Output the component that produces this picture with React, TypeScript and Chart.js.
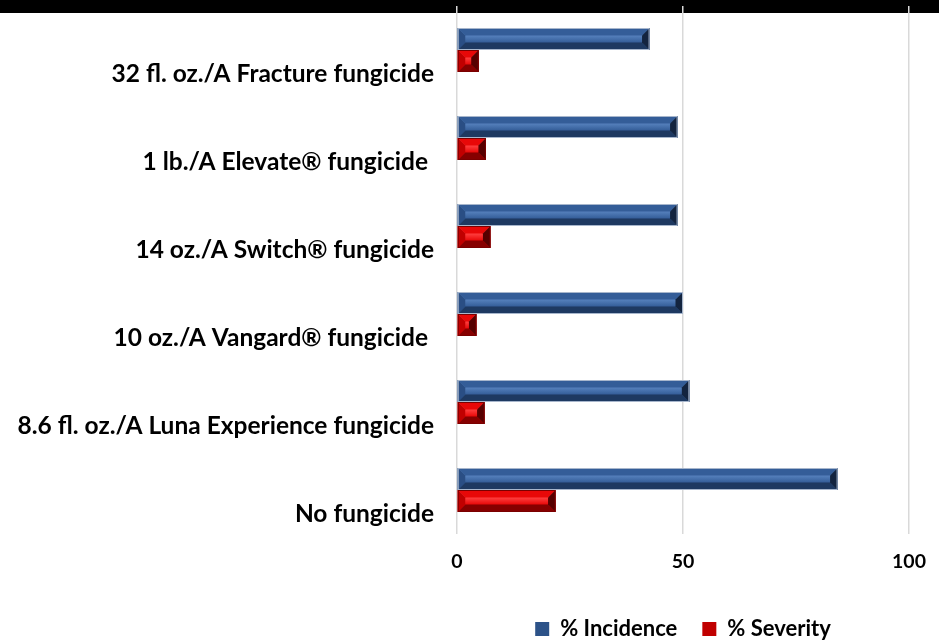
import React, { useEffect, useRef } from "react";
import { Chart, registerables } from "chart.js";

Chart.register(...registerables);

const categories = [
  "32 fl. oz./A Fracture fungicide",
  "1 lb./A Elevate\u00AE fungicide ",
  "14 oz./A Switch\u00AE fungicide",
  "10 oz./A Vangard\u00AE fungicide ",
  "8.6 fl. oz./A Luna Experience fungicide",
  "No fungicide",
];
const incidence = [42.6, 48.8, 48.8, 50.0, 51.4, 84.2];
const severity = [4.8, 6.4, 7.4, 4.3, 6.1, 21.8];
const seriesNames = ["% Incidence", "% Severity"];
const xMin = 0;
const xMax = 100;
const xStep = 50;

const palettes = [
  { base: "#2c5288", top: "#345d98", face: "#5681bd", bottom: "#1e3961", left: "#2a4e84", right: "#13243f", edge: "#a7b6cc" },
  { base: "#c00000", top: "#e80808", face: "#ff4040", bottom: "#860000", left: "#c00000", right: "#560000", edge: "#7a0000" },
];

const FONT = "Lato, 'Open Sans', sans-serif";

const bandPlugin = {
  id: "band",
  beforeDraw(chart: any) {
    const { ctx, width } = chart;
    ctx.save();
    ctx.fillStyle = "#000";
    ctx.fillRect(0, 0, width, 13);
    ctx.restore();
  },
};

const bevelPlugin = {
  id: "bevel",
  afterDatasetsDraw(chart: any) {
    const ctx = chart.ctx;
    const poly = (pts: number[][], color: string) => {
      ctx.beginPath();
      ctx.moveTo(pts[0][0], pts[0][1]);
      for (let i = 1; i < pts.length; i++) ctx.lineTo(pts[i][0], pts[i][1]);
      ctx.closePath();
      ctx.fillStyle = color;
      ctx.fill();
    };
    chart.data.datasets.forEach((_ds: any, di: number) => {
      const meta = chart.getDatasetMeta(di);
      const pal = palettes[di];
      meta.data.forEach((el: any) => {
        const { x, y, base, height } = el.getProps(["x", "y", "base", "height"], true);
        const l = Math.min(x, base);
        const r = Math.max(x, base);
        const t = y - height / 2;
        const b = y + height / 2;
        const w = r - l;
        const h = b - t;
        if (w <= 0) return;
        const bv = Math.min(7.5, h * 0.36, w / 2);
        ctx.save();
        const g = ctx.createLinearGradient(0, t + bv, 0, b - bv);
        g.addColorStop(0, pal.face);
        g.addColorStop(1, pal.top);
        ctx.fillStyle = g;
        ctx.fillRect(l, t, w, h);
        poly([[l, t], [r, t], [r - bv, t + bv], [l + bv, t + bv]], pal.top);
        poly([[l, b], [r, b], [r - bv, b - bv], [l + bv, b - bv]], pal.bottom);
        poly([[l, t], [l + bv, t + bv], [l + bv, b - bv], [l, b]], pal.left);
        poly([[r, t], [r - bv, t + bv], [r - bv, b - bv], [r, b]], pal.right);
        ctx.strokeStyle = pal.edge;
        ctx.lineWidth = 1;
        ctx.strokeRect(l + 0.5, t + 0.5, w - 1, h - 1);
        ctx.restore();
      });
    });
  },
};

export default function App() {
  const ref = useRef<HTMLCanvasElement>(null);
  useEffect(() => {
    document.body.style.margin = "0";
    document.body.style.overflow = "hidden";
    const chart = new Chart(ref.current!, {
      type: "bar",
      data: {
        labels: categories,
        datasets: [
          {
            label: seriesNames[0],
            data: incidence,
            backgroundColor: palettes[0].base,
            borderWidth: 0,
            categoryPercentage: 0.5,
            barPercentage: 1.0,
          },
          {
            label: seriesNames[1],
            data: severity,
            backgroundColor: palettes[1].base,
            borderWidth: 0,
            categoryPercentage: 0.5,
            barPercentage: 1.0,
          },
        ],
      },
      options: {
        indexAxis: "y",
        responsive: false,
        animation: false,
        layout: { padding: { top: 6, right: 30, left: 0, bottom: 0 } },
        scales: {
          x: {
            min: xMin,
            max: xMax,
            ticks: {
              stepSize: xStep,
              color: "#000",
              padding: 16,
              font: { family: FONT, size: 19.5, weight: "bold" },
            },
            grid: { color: "#d9d9d9", lineWidth: 1.5, drawTicks: false },
            border: { display: false },
            afterFit: (s: any) => {
              s.height = 59;
              s.paddingLeft = 0;
              s.paddingRight = 0;
            },
          },
          y: {
            ticks: {
              color: "#000",
              padding: 23,
              labelOffset: 24,
              font: { family: FONT, size: 24.5, weight: "bold" },
            },
            grid: { display: false, drawTicks: false },
            border: { display: false },
            afterFit: (s: any) => {
              s.width = 457;
              s.paddingTop = 0;
              s.paddingBottom = 0;
            },
          },
        },
        plugins: {
          legend: {
            position: "bottom",
            fullSize: false,
            labels: {
              boxWidth: 14,
              boxHeight: 14,
              padding: 25,
              color: "#000",
              font: { family: FONT, size: 22, weight: "bold" },
            },
          },
          title: { display: false },
          tooltip: { enabled: false },
        },
      },
      plugins: [bandPlugin, bevelPlugin],
    } as any);
    return () => chart.destroy();
  }, []);
  return (
    <div style={{ width: 939, height: 650 }}>
      <canvas ref={ref} width={939} height={650} style={{ display: "block" }} />
    </div>
  );
}
